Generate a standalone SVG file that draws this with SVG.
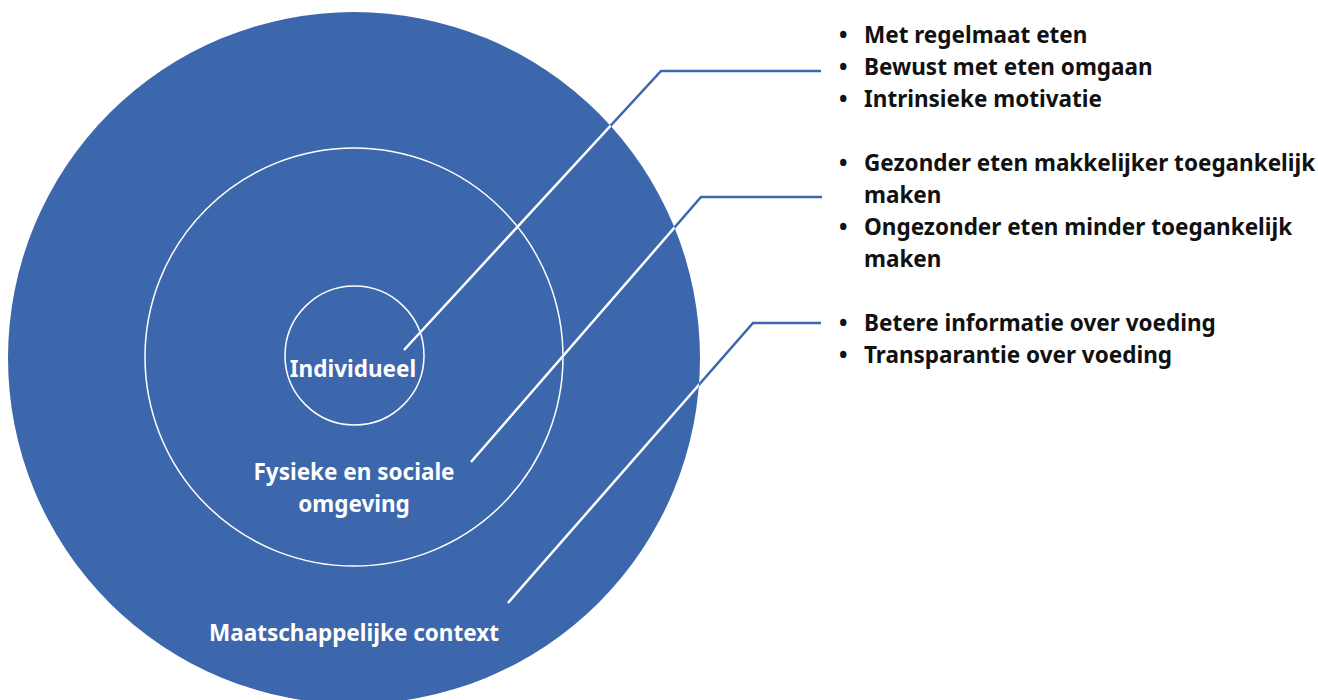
<svg xmlns="http://www.w3.org/2000/svg" width="1318" height="700" viewBox="0 0 1318 700">
  <defs>
    <style>
      .ring { fill: none; stroke: #ffffff; stroke-width: 1.5; }
      .label { font-family: "Noto Sans", "Open Sans", sans-serif; font-weight: bold; font-size: 22.5px; fill: #ffffff; text-anchor: middle; }
      .item { font-family: "Noto Sans", "Open Sans", sans-serif; font-weight: bold; font-size: 22.5px; fill: #111111; }
      .lead { fill: none; stroke: #3c67ac; stroke-width: 2.5; }
      .lead-in { fill: none; stroke: #ffffff; stroke-width: 2.5; }
    </style>
    <clipPath id="outerClip">
      <circle cx="354" cy="358" r="346"/>
    </clipPath>
  </defs>
  <rect width="1318" height="700" fill="#ffffff"/>

  <!-- Outer layer: society -->
  <g id="maatschappelijke-context">
    <circle cx="354" cy="358" r="346" fill="#3c67ac"/>
    <text class="label" x="354" y="641">Maatschappelijke context</text>
  </g>

  <!-- Middle layer: physical and social environment -->
  <g id="fysieke-sociale-omgeving">
    <circle class="ring" cx="354" cy="357" r="209"/>
    <text class="label" x="354" y="480">Fysieke en sociale</text>
    <text class="label" x="354" y="512">omgeving</text>
  </g>

  <!-- Core: individual -->
  <g id="individueel">
    <circle class="ring" cx="354.5" cy="355.5" r="69.5"/>
    <text class="label" x="353" y="377">Individueel</text>
  </g>

  <!-- Leader lines: blue outside the disc, white where they cross it -->
  <g id="connectors">
    <polyline class="lead" points="404,350 661,71 821,71"/>
    <polyline class="lead" points="471,462 701,197 822,197"/>
    <polyline class="lead" points="508,603 753,323 821,323"/>
    <g clip-path="url(#outerClip)">
      <polyline class="lead-in" points="404,350 661,71 821,71"/>
      <polyline class="lead-in" points="471,462 701,197 822,197"/>
      <polyline class="lead-in" points="508,603 753,323 821,323"/>
    </g>
  </g>

  <!-- Measures per layer -->
  <g id="lijst-individueel">
    <text class="item" x="839" y="43">•</text><text class="item" x="864" y="43">Met regelmaat eten</text>
    <text class="item" x="839" y="75">•</text><text class="item" x="864" y="75">Bewust met eten omgaan</text>
    <text class="item" x="839" y="107">•</text><text class="item" x="864" y="107">Intrinsieke motivatie</text>
  </g>
  <g id="lijst-omgeving">
    <text class="item" x="839" y="171">•</text><text class="item" x="864" y="171">Gezonder eten makkelijker toegankelijk</text>
    <text class="item" x="864" y="203">maken</text>
    <text class="item" x="839" y="235">•</text><text class="item" x="864" y="235">Ongezonder eten minder toegankelijk</text>
    <text class="item" x="864" y="267">maken</text>
  </g>
  <g id="lijst-maatschappij">
    <text class="item" x="839" y="331">•</text><text class="item" x="864" y="331">Betere informatie over voeding</text>
    <text class="item" x="839" y="363">•</text><text class="item" x="864" y="363">Transparantie over voeding</text>
  </g>
</svg>
